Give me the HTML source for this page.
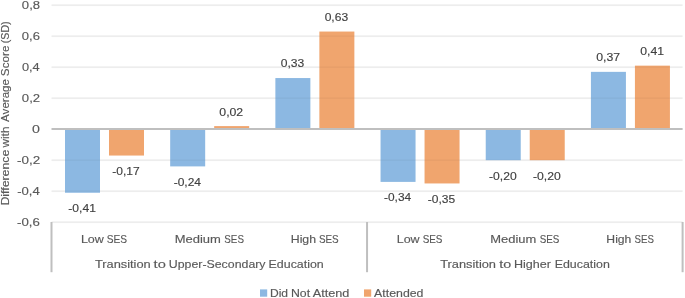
<!DOCTYPE html>
<html><head><meta charset="utf-8"><style>
html,body{margin:0;padding:0;background:#fff;width:685px;height:298px;overflow:hidden}
svg{display:block;will-change:transform}
text{font-family:"Liberation Sans", sans-serif;font-size:11.5px;stroke-width:0.15px}
</style></head><body>
<svg width="685" height="298" viewBox="0 0 685 298">
<rect width="685" height="298" fill="#fff"/>
<rect x="51.50" y="4.30" width="631.10" height="1.8" fill="#f5f5f5"/>
<rect x="51.50" y="35.30" width="631.10" height="1.8" fill="#f5f5f5"/>
<rect x="51.50" y="66.30" width="631.10" height="1.8" fill="#f5f5f5"/>
<rect x="51.50" y="97.30" width="631.10" height="1.8" fill="#f5f5f5"/>
<rect x="51.50" y="159.30" width="631.10" height="1.8" fill="#f5f5f5"/>
<rect x="51.50" y="190.30" width="631.10" height="1.8" fill="#f5f5f5"/>
<rect x="51.50" y="221.30" width="631.10" height="1.8" fill="#f5f5f5"/>
<rect x="65.00" y="129.80" width="35" height="62.95" fill="#8cb8e2"/>
<rect x="109.00" y="129.80" width="35" height="25.75" fill="#f0a56e"/>
<rect x="170.18" y="129.80" width="35" height="36.60" fill="#8cb8e2"/>
<rect x="214.18" y="126.10" width="35" height="2.10" fill="#f0a56e"/>
<rect x="275.37" y="78.05" width="35" height="50.15" fill="#8cb8e2"/>
<rect x="319.37" y="31.55" width="35" height="96.65" fill="#f0a56e"/>
<rect x="380.55" y="129.80" width="35" height="52.10" fill="#8cb8e2"/>
<rect x="424.55" y="129.80" width="35" height="53.65" fill="#f0a56e"/>
<rect x="485.73" y="129.80" width="35" height="30.40" fill="#8cb8e2"/>
<rect x="529.73" y="129.80" width="35" height="30.40" fill="#f0a56e"/>
<rect x="590.92" y="71.85" width="35" height="56.35" fill="#8cb8e2"/>
<rect x="634.92" y="65.65" width="35" height="62.55" fill="#f0a56e"/>
<rect x="51.50" y="4.30" width="631.10" height="1.8" fill="rgba(0,0,0,0.03)"/>
<rect x="51.50" y="35.30" width="631.10" height="1.8" fill="rgba(0,0,0,0.03)"/>
<rect x="51.50" y="66.30" width="631.10" height="1.8" fill="rgba(0,0,0,0.03)"/>
<rect x="51.50" y="97.30" width="631.10" height="1.8" fill="rgba(0,0,0,0.03)"/>
<rect x="51.50" y="159.30" width="631.10" height="1.8" fill="rgba(0,0,0,0.03)"/>
<rect x="51.50" y="190.30" width="631.10" height="1.8" fill="rgba(0,0,0,0.03)"/>
<rect x="51.50" y="221.30" width="631.10" height="1.8" fill="rgba(0,0,0,0.03)"/>
<rect x="51.50" y="128" width="631.10" height="2" fill="#bfbfbf"/>
<rect x="50.50" y="222" width="2" height="50.2" fill="#bfbfbf"/>
<rect x="366.05" y="222" width="2" height="50.2" fill="#bfbfbf"/>
<rect x="681.60" y="222" width="2" height="50.2" fill="#bfbfbf"/>
<rect x="260" y="289.4" width="7.2" height="7.3" fill="#8cb8e2"/>
<rect x="364" y="289.4" width="7.2" height="7.3" fill="#f0a56e"/>
<text x="21.87" y="9.00" fill="#595959" stroke="#595959" textLength="18.18" lengthAdjust="spacingAndGlyphs">0,8</text>
<text x="21.88" y="40.00" fill="#595959" stroke="#595959" textLength="18.11" lengthAdjust="spacingAndGlyphs">0,6</text>
<text x="21.95" y="71.00" fill="#595959" stroke="#595959" textLength="17.77" lengthAdjust="spacingAndGlyphs">0,4</text>
<text x="21.84" y="102.00" fill="#595959" stroke="#595959" textLength="18.27" lengthAdjust="spacingAndGlyphs">0,2</text>
<text x="32.14" y="133.00" fill="#595959" stroke="#595959" textLength="7.91" lengthAdjust="spacingAndGlyphs">0</text>
<text x="17.12" y="164.00" fill="#595959" stroke="#595959" textLength="23.13" lengthAdjust="spacingAndGlyphs">-0,2</text>
<text x="17.15" y="195.00" fill="#595959" stroke="#595959" textLength="22.57" lengthAdjust="spacingAndGlyphs">-0,4</text>
<text x="17.13" y="226.00" fill="#595959" stroke="#595959" textLength="22.78" lengthAdjust="spacingAndGlyphs">-0,6</text>
<text x="68.32" y="212.00" fill="#404040" stroke="#404040" textLength="27.55" lengthAdjust="spacingAndGlyphs">-0,41</text>
<text x="112.33" y="175.00" fill="#404040" stroke="#404040" textLength="27.43" lengthAdjust="spacingAndGlyphs">-0,17</text>
<text x="173.65" y="186.00" fill="#404040" stroke="#404040" textLength="27.36" lengthAdjust="spacingAndGlyphs">-0,24</text>
<text x="219.32" y="116.00" fill="#404040" stroke="#404040" textLength="23.88" lengthAdjust="spacingAndGlyphs">0,02</text>
<text x="280.81" y="67.00" fill="#404040" stroke="#404040" textLength="23.51" lengthAdjust="spacingAndGlyphs">0,33</text>
<text x="324.67" y="21.00" fill="#404040" stroke="#404040" textLength="23.44" lengthAdjust="spacingAndGlyphs">0,63</text>
<text x="384.05" y="201.00" fill="#404040" stroke="#404040" textLength="27.05" lengthAdjust="spacingAndGlyphs">-0,34</text>
<text x="427.86" y="203.00" fill="#404040" stroke="#404040" textLength="27.35" lengthAdjust="spacingAndGlyphs">-0,35</text>
<text x="488.99" y="180.00" fill="#404040" stroke="#404040" textLength="27.65" lengthAdjust="spacingAndGlyphs">-0,20</text>
<text x="532.93" y="180.00" fill="#404040" stroke="#404040" textLength="27.80" lengthAdjust="spacingAndGlyphs">-0,20</text>
<text x="596.20" y="61.00" fill="#404040" stroke="#404040" textLength="23.89" lengthAdjust="spacingAndGlyphs">0,37</text>
<text x="640.30" y="55.00" fill="#404040" stroke="#404040" textLength="23.71" lengthAdjust="spacingAndGlyphs">0,41</text>
<text x="80.90" y="243.00" fill="#595959" stroke="#595959" textLength="22.95" lengthAdjust="spacingAndGlyphs">Low</text>
<text x="106.71" y="243.00" fill="#595959" stroke="#595959" textLength="20.37" lengthAdjust="spacingAndGlyphs">SES</text>
<text x="174.76" y="243.00" fill="#595959" stroke="#595959" textLength="46.14" lengthAdjust="spacingAndGlyphs">Medium</text>
<text x="224.33" y="243.00" fill="#595959" stroke="#595959" textLength="19.59" lengthAdjust="spacingAndGlyphs">SES</text>
<text x="290.76" y="243.00" fill="#595959" stroke="#595959" textLength="25.31" lengthAdjust="spacingAndGlyphs">High</text>
<text x="318.90" y="243.00" fill="#595959" stroke="#595959" textLength="19.76" lengthAdjust="spacingAndGlyphs">SES</text>
<text x="396.73" y="243.00" fill="#595959" stroke="#595959" textLength="22.90" lengthAdjust="spacingAndGlyphs">Low</text>
<text x="422.66" y="243.00" fill="#595959" stroke="#595959" textLength="19.82" lengthAdjust="spacingAndGlyphs">SES</text>
<text x="490.22" y="243.00" fill="#595959" stroke="#595959" textLength="46.03" lengthAdjust="spacingAndGlyphs">Medium</text>
<text x="539.71" y="243.00" fill="#595959" stroke="#595959" textLength="19.68" lengthAdjust="spacingAndGlyphs">SES</text>
<text x="606.36" y="243.00" fill="#595959" stroke="#595959" textLength="25.02" lengthAdjust="spacingAndGlyphs">High</text>
<text x="634.62" y="243.00" fill="#595959" stroke="#595959" textLength="19.31" lengthAdjust="spacingAndGlyphs">SES</text>
<text x="94.90" y="268.00" fill="#595959" stroke="#595959" textLength="55.83" lengthAdjust="spacingAndGlyphs">Transition</text>
<text x="153.59" y="268.00" fill="#595959" stroke="#595959" textLength="12.23" lengthAdjust="spacingAndGlyphs">to</text>
<text x="168.82" y="268.00" fill="#595959" stroke="#595959" textLength="96.72" lengthAdjust="spacingAndGlyphs">Upper-Secondary</text>
<text x="268.62" y="268.00" fill="#595959" stroke="#595959" textLength="55.12" lengthAdjust="spacingAndGlyphs">Education</text>
<text x="440.17" y="268.00" fill="#595959" stroke="#595959" textLength="55.85" lengthAdjust="spacingAndGlyphs">Transition</text>
<text x="499.34" y="268.00" fill="#595959" stroke="#595959" textLength="11.95" lengthAdjust="spacingAndGlyphs">to</text>
<text x="513.94" y="268.00" fill="#595959" stroke="#595959" textLength="36.96" lengthAdjust="spacingAndGlyphs">Higher</text>
<text x="554.70" y="268.00" fill="#595959" stroke="#595959" textLength="55.12" lengthAdjust="spacingAndGlyphs">Education</text>
<text x="269.91" y="297.00" fill="#595959" stroke="#595959" textLength="18.13" lengthAdjust="spacingAndGlyphs">Did</text>
<text x="290.94" y="297.00" fill="#595959" stroke="#595959" textLength="19.14" lengthAdjust="spacingAndGlyphs">Not</text>
<text x="312.69" y="297.00" fill="#595959" stroke="#595959" textLength="36.66" lengthAdjust="spacingAndGlyphs">Attend</text>
<text x="374.13" y="297.00" fill="#595959" stroke="#595959" textLength="49.32" lengthAdjust="spacingAndGlyphs">Attended</text>
<text x="9.40" y="205.58" fill="#595959" stroke="#595959" textLength="55.93" lengthAdjust="spacingAndGlyphs" transform="rotate(-90 9.40 205.58)">Difference</text>
<text x="9.40" y="147.49" fill="#595959" stroke="#595959" textLength="20.95" lengthAdjust="spacingAndGlyphs" transform="rotate(-90 9.40 147.49)">with</text>
<text x="9.40" y="121.88" fill="#595959" stroke="#595959" textLength="42.87" lengthAdjust="spacingAndGlyphs" transform="rotate(-90 9.40 121.88)">Average</text>
<text x="9.40" y="76.15" fill="#595959" stroke="#595959" textLength="30.56" lengthAdjust="spacingAndGlyphs" transform="rotate(-90 9.40 76.15)">Score</text>
<text x="9.40" y="43.18" fill="#595959" stroke="#595959" textLength="21.78" lengthAdjust="spacingAndGlyphs" transform="rotate(-90 9.40 43.18)">(SD)</text>
</svg>
</body></html>
